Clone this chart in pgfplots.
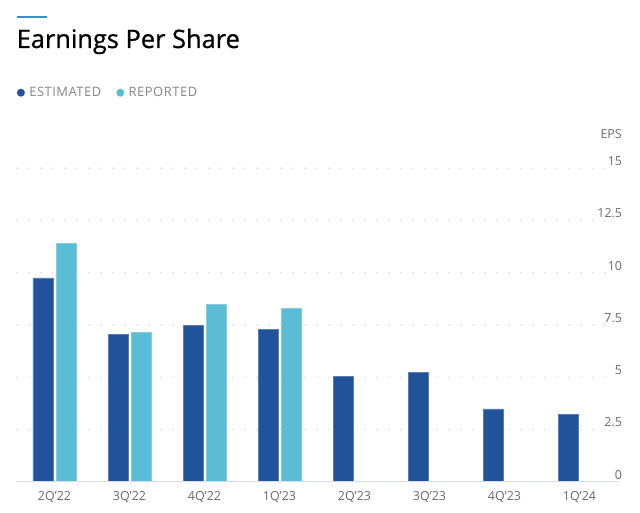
\documentclass[border=0pt]{standalone}
\usepackage{fontspec}
\setmainfont{Open Sans}
\newfontfamily\titlefont[FakeBold=0.8]{Open Sans}
\newfontfamily\legendfont[LetterSpace=4]{Open Sans}
\usepackage{pgfplots}
\pgfplotsset{compat=1.18}
\usepackage{pgfplotstable}

\definecolor{estblue}{HTML}{21539A}
\definecolor{repblue}{HTML}{5BBDD5}
\definecolor{gridgrey}{HTML}{D8D8D8}
\definecolor{basecol}{HTML}{D5DCEE}
\definecolor{ticktext}{HTML}{6A6A6A}
\definecolor{legtext}{HTML}{858585}
\definecolor{topline}{HTML}{3B8FC4}

% quarter index, EPS
\pgfplotstableread{
x  eps
0  9.75
1  7.03
2  7.47
3  7.27
4  5.05
5  5.22
6  3.48
7  3.24
}\estimated
\pgfplotstableread{
x  eps
0  11.41
1  7.13
2  8.47
3  8.28
}\reported

\begin{document}
\begin{tikzpicture}
\useasboundingbox (0,0) rectangle (640bp,513bp);
\draw[topline, line width=2bp] (17bp,496bp) -- (46.5bp,496bp);
\node[anchor=base west, inner sep=0, font=\titlefont\fontsize{25.5}{30}\selectfont, text=black]
  at (16.5bp,465bp) {Earnings Per Share};
\node[anchor=base east, inner sep=0, font=\fontsize{12.5}{15}\selectfont, text=ticktext]
  at (622bp,374bp) {EPS};

\begin{axis}[
    at={(17bp,31.3bp)}, anchor=south west,
    scale only axis,
    width=590.25bp, height=313.4bp,
    xmin=-0.5, xmax=7.37,
    ymin=0, ymax=15,
    clip=false,
    ybar=3bp, bar width=20bp,
    axis line style={draw=none},
    major tick length=0,
    xtick=data,
    xticklabels={2Q'22,3Q'22,4Q'22,1Q'23,2Q'23,3Q'23,4Q'23,1Q'24},
    ytick={0,2.5,5,7.5,10,12.5,15},
    yticklabel pos=right,
    /pgf/number format/assume math mode=true,
    ticklabel style={font=\fontsize{12.5}{15}\selectfont, text=ticktext, inner sep=0},
    xticklabel style={anchor=base, yshift=-19bp},
    yticklabel style={anchor=base east, xshift=15bp, yshift=2.6bp},
    ymajorgrids,
    grid style={gridgrey, line width=1.6bp, line cap=round, dash pattern=on 0bp off 12bp},
    legend columns=2,
    legend style={at={(axis description cs:0,1)}, anchor=west, xshift=-0.3bp, yshift=75.6bp,
      draw=none, fill=none, inner sep=0,
      font=\legendfont\fontsize{13}{15}\selectfont, text=legtext,
      /tikz/every even column/.append style={column sep=13bp}},
    legend image code/.code={\fill[#1, draw=none] (4bp,0bp) circle (4bp); \path (10bp,0bp);},
]
\addplot[fill=estblue, draw=estblue!75!white, line width=0.8bp] table[x=x, y=eps] {\estimated};
\addplot[fill=repblue, draw=repblue!75!white, line width=0.8bp] table[x=x, y=eps] {\reported};
\legend{ESTIMATED, REPORTED}
\draw[basecol, line width=1.5bp] (axis cs:-0.5,0) -- (axis cs:7.52,0);
\end{axis}
\end{tikzpicture}
\end{document}
